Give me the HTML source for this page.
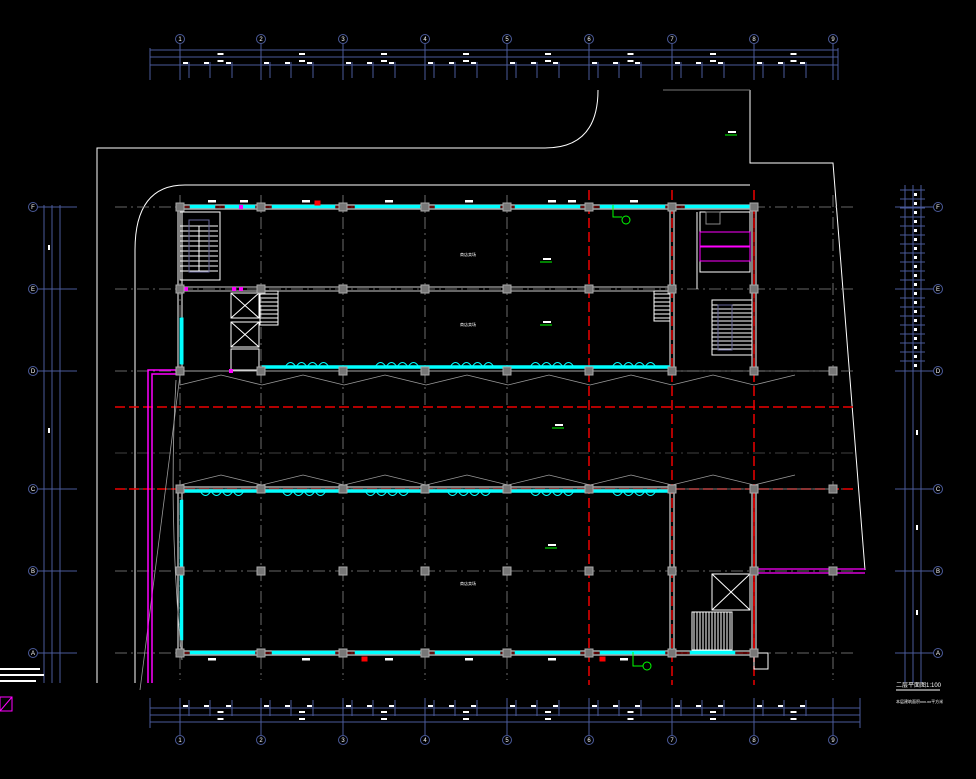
<!DOCTYPE html>
<html><head><meta charset="utf-8"><style>
html,body{margin:0;padding:0;background:#000;width:976px;height:779px;overflow:hidden}
svg{display:block}
text{font-family:"Liberation Sans","Noto Sans CJK SC",sans-serif;fill:#fff}
</style></head><body>
<svg id="s" width="976" height="779" viewBox="0 0 976 779" xmlns="http://www.w3.org/2000/svg">
<rect width="976" height="779" fill="#000"/>
<g fill="none" stroke="#fff" stroke-width="1">
<path d="M97 683 V148 H545 Q598 148 598 90"/>
<path d="M750 90 V163 H833 L865 570"/>
<path d="M135 683 V250 Q135 185 185 185 H750"/>
<path d="M663 90 H750" stroke="#777"/>
</g>
<g id="grid"></g>
<g id="bld"></g>
<g id="dims"></g>
<text x="896" y="687" font-size="6">二层平面图1:100</text>
<line x1="896" y1="690" x2="940" y2="690" stroke="#fff"/>
<text x="896" y="703" font-size="4">本层建筑面积xxx.xx平方米</text>
<g fill="#fff" font-size="4">
<rect x="0" y="668" width="40" height="2"/><rect x="0" y="674" width="44" height="2"/><rect x="0" y="680" width="36" height="2"/>
</g>
<rect x="0" y="697" width="12" height="14" fill="none" stroke="#f0f"/>
<line x1="0" y1="711" x2="12" y2="697" stroke="#f0f"/>
</svg>
<script>
var NS="http://www.w3.org/2000/svg";
function el(p,t,a,txt){var e=document.createElementNS(NS,t);for(var k in a)e.setAttribute(k,a[k]);if(txt)e.textContent=txt;document.getElementById(p).appendChild(e);return e;}
var X=[180,261,343,425,507,589,672,754,833];
var Y=[207,289,371,489,571,653];
var RL=["F","E","D","C","B","A"];
X.forEach(function(x,i){
 var red=(i>=5&&i<=7);
 el("grid","line",{x1:x,y1:red?190:195,x2:x,y2:red?685:680,stroke:red?"#e00":"#888","stroke-width":red?1.5:0.8,"stroke-dasharray":red?"10 4":"12 4 2 4"});
});
Y.forEach(function(y){
 el("grid","line",{x1:115,y1:y,x2:855,y2:y,stroke:"#888","stroke-width":0.8,"stroke-dasharray":"12 4 2 4"});
});
[407,489].forEach(function(y){el("grid","line",{x1:115,y1:y,x2:855,y2:y,stroke:"#e00","stroke-width":1.5,"stroke-dasharray":"10 4"});});
el("grid","line",{x1:115,y1:453,x2:855,y2:453,stroke:"#555","stroke-width":0.8,"stroke-dasharray":"12 4 2 4"});
function L(x1,y1,x2,y2,c,w){el("bld","line",{x1:x1,y1:y1,x2:x2,y2:y2,stroke:c||"#fff","stroke-width":w||1});}
function R(x,y,w,h,c,f,sw){el("bld","rect",{x:x,y:y,width:w,height:h,stroke:c||"#fff",fill:f||"none","stroke-width":sw||1});}
L(180,205,754,205);L(180,209,754,209);
L(178,207,178,371);L(182,209,182,371,"#fff");
L(178,371,672,371);L(262,367,672,367);
L(180,291,672,291,"#ccc");L(180,287,672,287,"#ccc");
L(670,207,670,371);L(674,207,674,371);
L(752,207,752,371);L(756,207,756,371);
L(178,489,178,653);L(182,489,182,653);
L(180,487,672,487);L(180,491,672,491);
L(180,651,754,651);L(180,655,754,655);
L(670,489,670,653);L(674,489,674,653);
L(752,489,752,653);L(756,489,756,653);
L(180,207,754,207,"#e00",0.8);L(180,653,754,653,"#e00",0.8);L(754,207,754,371,"#e00",1);L(754,489,754,653,"#e00",1.5);
[[190,215],[225,255],[272,335],[355,420],[435,500],[515,580],[600,665],[685,750]].forEach(function(a){R(a[0],205,a[1]-a[0],3,"#0ff","#0ff",0.5);});
[[190,255],[272,335],[355,420],[435,500],[515,580],[600,665],[690,735]].forEach(function(a){R(a[0],651,a[1]-a[0],3,"#0ff","#0ff",0.5);});
R(180,318,3,46,"#0ff","#0ff");R(180,500,3,140,"#0ff","#0ff",0.5);
function swings(y,x0,x1,dir,groups){R(x0,y-1.5,x1-x0,3,"#0ff","#0ff",0.5);
 groups.forEach(function(g){for(var x=g[0];x<g[1]-8;x+=11){el("bld","path",{d:"M"+x+" "+y+" q5.5 "+(dir*9)+" 11 0",stroke:"#0ff",fill:"none","stroke-width":1});}});}
swings(367,262,670,-1,[[285,327],[375,420],[450,500],[530,580],[612,654]]);
swings(491,183,670,1,[[200,245],[282,327],[365,410],[447,492],[530,575],[612,657]]);
for(var k=0;k<2;k++){var yb=k?380:480;
 var d="M180 "+yb;for(var x=180;x<=833;x+=41){d+=" L"+x+" "+(yb+(((x-180)/41)%2?-5:5));}
 el("bld","path",{d:d,stroke:"#999",fill:"none","stroke-width":0.8});}
L(180,371,833,371,"#888",0.8);L(180,489,833,489,"#888",0.8);
el("bld","path",{d:"M180 375 L140 690",stroke:"#999",fill:"none","stroke-width":0.8});
el("bld","path",{d:"M176 380 Q168 520 182 660",stroke:"#aaa",fill:"none","stroke-width":0.8});
el("bld","path",{d:"M148 683 V370 H180 M152 683 V374 H180",stroke:"#f0f",fill:"none","stroke-width":1.5});
el("bld","path",{d:"M754 569 H865 M754 573 H865",stroke:"#f0f",fill:"none","stroke-width":1.2});
R(180,212,40,68);for(var y=226;y<272;y+=5){L(180,y,218,y);}L(199,226,199,272);R(189,220,20,52,"#669");
[[231,293],[231,322]].forEach(function(a){R(a[0],a[1],28,25);L(a[0],a[1],a[0]+28,a[1]+25);L(a[0]+28,a[1],a[0],a[1]+25);});
R(231,349,28,21);R(260,291,18,34);for(var y=294;y<325;y+=4)L(260,y,278,y);
R(654,291,16,30);for(var y=294;y<321;y+=4)L(654,y,670,y);
R(700,212,50,60);R(700,232,50,14,"#f0f");R(700,247,50,14,"#f0f");R(706,212,14,12,"#888");
R(712,300,40,55);for(var y=305;y<352;y+=4)L(712,y,752,y);R(718,305,14,45,"#669");
L(697,212,697,289);
R(712,574,38,36);L(712,574,750,610);L(750,574,712,610);
R(692,612,40,38);for(var x=694;x<732;x+=3)L(x,612,x,650);
R(754,653,14,16);
el("bld","circle",{cx:626,cy:220,r:4,stroke:"#0f0",fill:"none"});el("bld","path",{d:"M613 205 V217 H622",stroke:"#0f0",fill:"none"});
el("bld","circle",{cx:647,cy:666,r:4,stroke:"#0f0",fill:"none"});el("bld","path",{d:"M633 652 V666 H643",stroke:"#0f0",fill:"none"});
[[725,135],[540,262],[540,325],[552,428],[545,548]].forEach(function(p){L(p[0],p[1],p[0]+12,p[1],"#0f0");el("bld","rect",{x:p[0]+3,y:p[1]-4,width:8,height:2,fill:"#fff"});});
R(315,201,5,4,"#f00","#f00");R(362,657,5,4,"#f00","#f00");R(600,657,5,4,"#f00","#f00");
[[460,256],[460,326],[460,585]].forEach(function(p){el("bld","text",{x:p[0],y:p[1],"font-size":4},"商店卖场");});
[[208,203],[240,203],[302,203],[385,203],[465,203],[548,203],[568,203],[630,203],[208,661],[302,661],[385,661],[465,661],[548,661],[620,661]].forEach(function(p){el("bld","rect",{x:p[0],y:p[1]-3,width:8,height:2.5,fill:"#fff"});});
[[241,207],[241,289],[186,289],[262,289],[262,371],[234,289],[231,371]].forEach(function(p){R(p[0]-1.5,p[1]-1.5,3,3,"#f0f","#f0f");});
X.forEach(function(x){Y.forEach(function(y){
 if(x==833&&(y==207||y==289||y==653))return;
 R(x-4,y-4,8,8,"#aaa","#777",1);});});
function D(t,a,txt){return el("dims",t,a,txt);}
var B="#4a5a9a";
function circ(x,y,lab){D("circle",{cx:x,cy:y,r:4.5,stroke:B,fill:"none"});D("text",{x:x,y:y+2,"font-size":6,"text-anchor":"middle"},lab);}
[50,57,65].forEach(function(y){D("line",{x1:150,y1:y,x2:838,y2:y,stroke:B});});
D("line",{x1:150,y1:48,x2:150,y2:80,stroke:B});D("line",{x1:838,y1:48,x2:838,y2:80,stroke:B});
X.forEach(function(x,i){circ(x,39,""+(i+1));D("line",{x1:x,y1:44,x2:x,y2:80,stroke:B});circ(x,740,""+(i+1));D("line",{x1:x,y1:698,x2:x,y2:735,stroke:B});});
for(var i=0;i<8;i++){var xm=(X[i]+X[i+1])/2;D("rect",{x:xm-3,y:53,width:6,height:2,fill:"#fff"});D("rect",{x:xm-3,y:60,width:6,height:2,fill:"#fff"});D("rect",{x:xm-3,y:711,width:6,height:2,fill:"#fff"});D("rect",{x:xm-3,y:718,width:6,height:2,fill:"#fff"});
 [X[i]+9,X[i]+20,X[i]+30,X[i]+41,X[i]+52].forEach(function(t,j){if(j%2==0){D("line",{x1:t,y1:62,x2:t,y2:78,stroke:B});D("rect",{x:t-6,y:62,width:5,height:2,fill:"#fff"});D("line",{x1:t,y1:700,x2:t,y2:716,stroke:B});D("rect",{x:t-6,y:705,width:5,height:2,fill:"#fff"});}});}
[708,715,722].forEach(function(y){D("line",{x1:150,y1:y,x2:860,y2:y,stroke:B});});
D("line",{x1:150,y1:698,x2:150,y2:728,stroke:B});D("line",{x1:860,y1:698,x2:860,y2:728,stroke:B});
[44,52,60].forEach(function(x){D("line",{x1:x,y1:205,x2:x,y2:683,stroke:B});});
Y.forEach(function(y,i){circ(33,y,RL[i]);D("line",{x1:38,y1:y,x2:77,y2:y,stroke:B});circ(938,y,RL[i]);D("line",{x1:895,y1:y,x2:933,y2:y,stroke:B});});
D("rect",{x:48,y:245,width:2,height:5,fill:"#fff"});D("rect",{x:48,y:428,width:2,height:5,fill:"#fff"});
[905,913,921].forEach(function(x){D("line",{x1:x,y1:185,x2:x,y2:683,stroke:B});});
for(var y=190;y<370;y+=9){D("line",{x1:900,y1:y,x2:925,y2:y,stroke:B});D("rect",{x:914,y:y+3,width:3,height:3,fill:"#fff"});}
D("rect",{x:916,y:430,width:2,height:5,fill:"#fff"});D("rect",{x:916,y:525,width:2,height:5,fill:"#fff"});D("rect",{x:916,y:610,width:2,height:5,fill:"#fff"});
</script>
</body></html>
